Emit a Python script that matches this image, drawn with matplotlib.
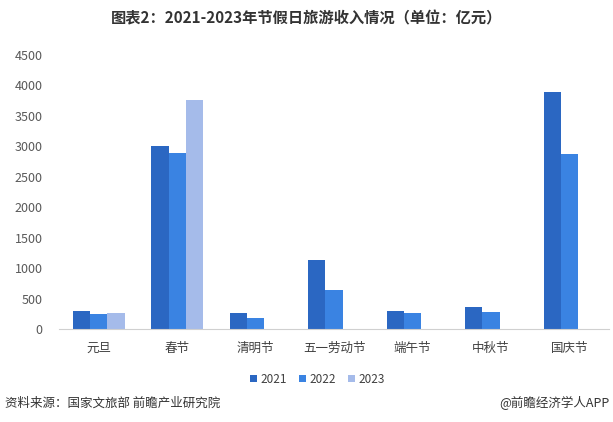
import matplotlib
matplotlib.use("Agg")
import matplotlib.pyplot as plt
import numpy as np

plt.rcParams['font.family'] = ['Noto Sans CJK SC', 'DejaVu Sans']
plt.rcParams['axes.unicode_minus'] = False

categories = ['元旦', '春节', '清明节', '五一劳动节', '端午节', '中秋节', '国庆节']
years = ['2021', '2022', '2023']
v2021 = [295.0, 3011.0, 271.7, 1132.3, 294.3, 371.5, 3890.6]
v2022 = [253.2, 2892.0, 187.0, 646.8, 258.2, 286.8, 2872.1]
v2023 = [265.2, 3758.4, np.nan, np.nan, np.nan, np.nan, np.nan]
colors = ['#2b67c2', '#3a83e2', '#a5bbea']

fig = plt.figure(figsize=(6.13, 4.22), dpi=100)
ax = fig.add_axes([0.097, 0.220, 0.896, 0.650])

x = np.arange(len(categories))
width = 0.22
for i, (vals, yr, c) in enumerate(zip([v2021, v2022, v2023], years, colors)):
    ax.bar(x + (i - 1) * width, vals, width=width, color=c, label=yr)

ax.set_xlim(-0.5, len(categories) - 0.5)
ax.set_ylim(0, 4500)
ax.set_yticks(range(0, 4501, 500))
ax.set_xticks(x)
ax.set_xticklabels(categories, fontsize=9, color='#404040')
ax.tick_params(axis='y', labelsize=9, labelcolor='#595959', length=0, pad=12)
ax.tick_params(axis='x', length=0, pad=9)
for s in ['top', 'right', 'left']:
    ax.spines[s].set_visible(False)
ax.spines['bottom'].set_color('#d0d0d0')

ax.legend(loc='upper center', bbox_to_anchor=(0.47, -0.12), ncol=3, frameon=False,
          fontsize=8.5, handlelength=0.6, handleheight=0.6, handletextpad=0.3,
          columnspacing=1.0, labelcolor='#404040')

fig.text(0.5, 0.957, '图表2：2021-2023年节假日旅游收入情况（单位：亿元）',
         ha='center', va='center', fontsize=11, fontweight='bold', color='#333333')
fig.text(0.008, 0.045, '资料来源：国家文旅部 前瞻产业研究院', ha='left', va='center',
         fontsize=9, color='#333333')
fig.text(0.995, 0.045, '@前瞻经济学人APP', ha='right', va='center',
         fontsize=9, color='#333333')

fig.savefig('out.png', dpi=100)
